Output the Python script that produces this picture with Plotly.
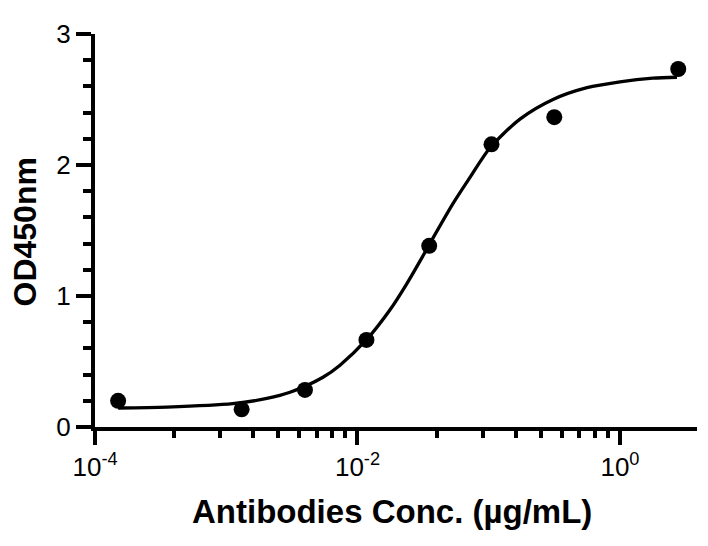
import plotly.graph_objects as go

# Measured data points (concentration in µg/mL, OD450nm)
conc = [0.000150, 0.00131, 0.00398, 0.0117, 0.0352, 0.105, 0.316, 2.78]
od = [0.20, 0.135, 0.283, 0.665, 1.383, 2.158, 2.365, 2.733]

# Fitted curve
curve_x = [0.000150, 0.000354, 0.00112, 0.00204, 0.00306, 0.00546, 0.00736,
           0.0118, 0.0177, 0.0238, 0.0315, 0.0356, 0.0534, 0.0720, 0.102,
           0.173, 0.309, 0.561, 1.0, 1.78, 2.72]
curve_y = [0.145, 0.152, 0.178, 0.218, 0.265, 0.380, 0.472,
           0.670, 0.895, 1.095, 1.305, 1.400, 1.705, 1.905, 2.13,
           2.35, 2.50, 2.59, 2.635, 2.663, 2.67]

x_tickvals = [1e-4, 1e-2, 1]
x_ticktext = ["10<sup>-4</sup>", "10<sup>-2</sup>", "10<sup>0</sup>"]
x_minor = [k * k * 1e-4 for k in range(2, 10)] + [k * k * 1e-2 for k in range(2, 10)]
y_tickvals = [0, 1, 2, 3]

FONT = "Arial, Liberation Sans, Helvetica, sans-serif"

fig = go.Figure()
fig.add_trace(go.Scatter(x=curve_x, y=curve_y, mode="lines",
                         line=dict(color="black", width=3.3, shape="spline", smoothing=0.8),
                         hoverinfo="skip", showlegend=False))
fig.add_trace(go.Scatter(x=conc, y=od, mode="markers",
                         marker=dict(color="black", size=16), cliponaxis=False,
                         showlegend=False))

# The page body adds an 8px margin, so the figure is sized and placed to compensate.
fig.update_layout(
    width=700, height=538,
    margin=dict(l=87, r=11, t=19, b=119),
    paper_bgcolor="white", plot_bgcolor="white",
    font=dict(family=FONT, color="black"),
    xaxis=dict(type="log", range=[-4, 0.587],
               tickmode="array", tickvals=x_tickvals, ticktext=x_ticktext,
               ticks="outside", ticklen=14, tickwidth=4, tickcolor="black",
               showline=True, linewidth=4, linecolor="black",
               showgrid=False, zeroline=False,
               tickfont=dict(size=26, family=FONT, color="black"),
               minor=dict(tickvals=x_minor, ticks="outside", ticklen=7,
                          tickwidth=4, tickcolor="black", showgrid=False)),
    yaxis=dict(range=[0, 3],
               tickmode="array", tickvals=y_tickvals,
               ticks="outside", ticklen=15, tickwidth=4, tickcolor="black",
               showline=True, linewidth=4, linecolor="black",
               showgrid=False, zeroline=False,
               tickfont=dict(size=26, family=FONT, color="black"),
               minor=dict(dtick=0.2, tick0=0, ticks="outside", ticklen=8,
                          tickwidth=4, tickcolor="black", showgrid=False)),
    annotations=[
        dict(text="<b>Antibodies Conc. (µg/mL)</b>", xref="paper", yref="paper",
             x=0.494, y=-0.215, xanchor="center", yanchor="middle", showarrow=False,
             font=dict(size=33, family=FONT, color="black")),
        dict(text="<b>OD450nm</b>", xref="paper", yref="paper",
             x=-0.1163, y=0.4975, xanchor="center", yanchor="middle", showarrow=False,
             textangle=-90, font=dict(size=32, family=FONT, color="black")),
    ],
)

fig.write_html("out.html")
